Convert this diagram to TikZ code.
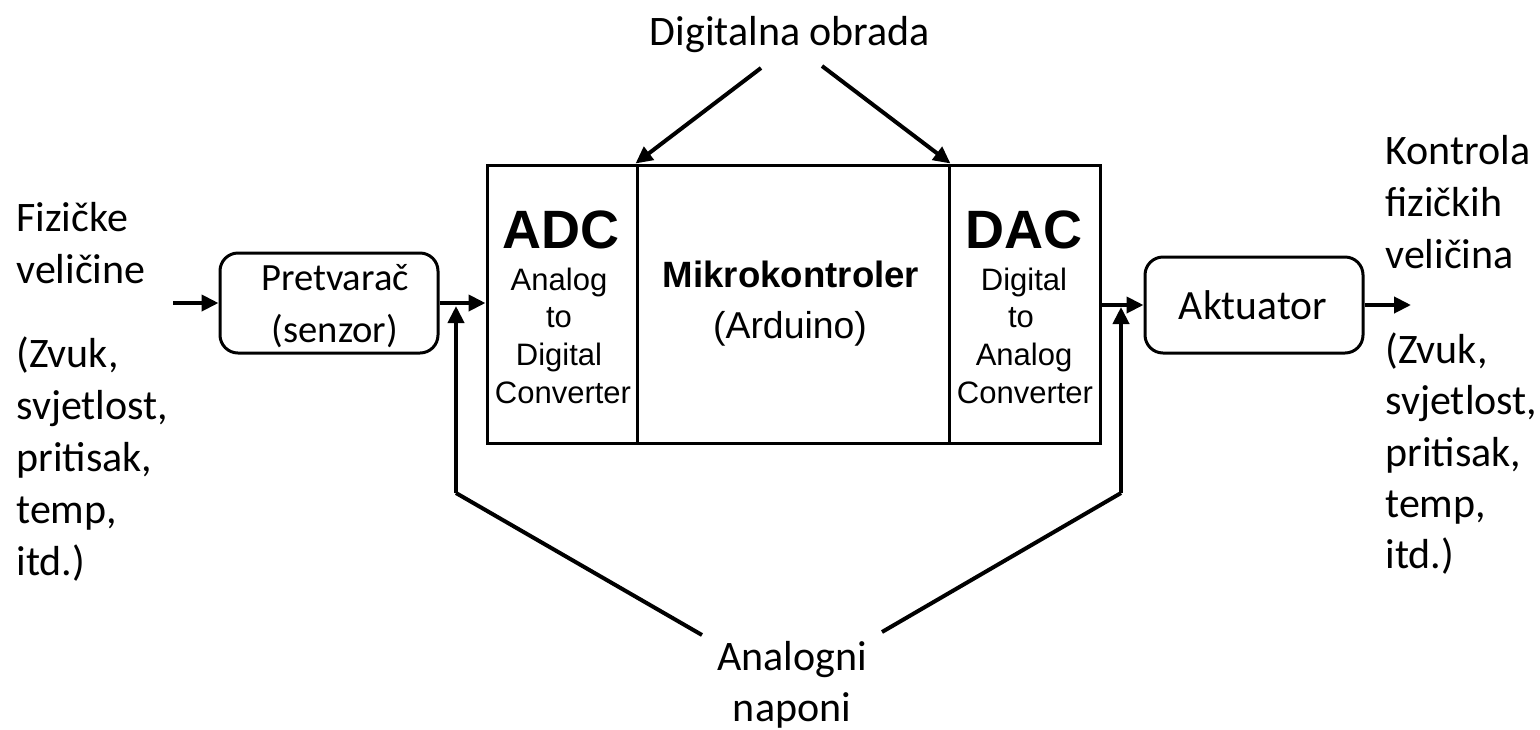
\documentclass[tikz,border=0pt]{standalone}
\usepackage{fontspec}
\setmainfont{Carlito}
\newfontfamily\arialf{Liberation Sans}
\usetikzlibrary{arrows.meta}
\tikzset{
  blk/.style={draw, line width=1.5pt, inner sep=0pt, minimum height=139pt},
  rbox/.style={draw, line width=1.5pt, rounded corners=9pt, inner sep=0pt},
  conn/.style={line width=2pt},
  arr/.style={line width=2pt, -{Triangle[length=8.5pt,width=8pt]}},
  txt/.style={inner sep=0pt, font=\fontsize{21pt}{25pt}\selectfont},
  ltxt/.style={txt, anchor=base west},
  ctxt/.style={txt, anchor=base},
  big/.style={inner sep=0pt, anchor=base, font=\arialf\bfseries\fontsize{27pt}{30pt}\selectfont},
  sub/.style={inner sep=0pt, anchor=base, font=\arialf\fontsize{15.5pt}{18pt}\selectfont}
}
\begin{document}
\begin{tikzpicture}[x=0.5pt,y=-0.5pt]
\useasboundingbox (0,0) rectangle (1540,729);

% main blocks
\node[blk, minimum width=75pt] (adc) at (562,304) {};
\node[blk, minimum width=156pt] (mk) at (793,304) {};
\node[blk, minimum width=75.5pt] (dac) at (1024.5,304) {};

% rounded boxes
\node[rbox, minimum width=109pt, minimum height=50pt] (pret) at (329,303) {};
\node[rbox, minimum width=109pt, minimum height=48pt] (akt) at (1254,305) {};

% texts inside boxes
\node[ctxt, font=\fontsize{19.3pt}{23pt}\selectfont] (pret1) at (335,290) {Pretvarač};
\node[ctxt, font=\fontsize{19.3pt}{23pt}\selectfont] (pret2) at (335,342) {(senzor)};
\node[ctxt, font=\fontsize{20.8pt}{24pt}\selectfont] (akt1) at (1253,319) {Aktuator};

\node[big] (adct) at (561,248) {ADC};
\node[sub] (adc1) at (559,290) {Analog};
\node[sub] (adc2) at (559,327) {to};
\node[sub] (adc3) at (559,365) {Digital};
\node[sub] (adc4) at (563,403) {Converter};

\node[big] (dact) at (1024,248) {DAC};
\node[sub] (dac1) at (1024,290) {Digital};
\node[sub] (dac2) at (1021,327) {to};
\node[sub] (dac3) at (1024,365) {Analog};
\node[sub] (dac4) at (1025,403) {Converter};

\node[inner sep=0pt, anchor=base, font=\arialf\bfseries\fontsize{18.3pt}{22pt}\selectfont] (mk1) at (791,287) {Mikrokontroler};
\node[inner sep=0pt, anchor=base, font=\arialf\fontsize{18.7pt}{22pt}\selectfont] (mk2) at (790,338) {(Arduino)};

% top label
\node[ctxt] (dig) at (790,45) {Digitalna obrada};
\coordinate (dl) at (761,68);
\coordinate (dr) at (822,66);
\draw[arr] (dl) -- (mk.north west);
\draw[arr] (dr) -- (mk.north east);

% bottom label
\node[ctxt] (an1) at (792,670) {Analogni};
\node[ctxt] (an2) at (792,721) {naponi};

% left texts
\node[ltxt] (l1) at (16,231) {Fizičke};
\node[ltxt] (l2) at (16,283) {veličine};
\node[ltxt] (l3) at (16,367) {(Zvuk,};
\node[ltxt] (l4) at (16,419) {svjetlost,};
\node[ltxt] (l5) at (16,471) {pritisak,};
\node[ltxt] (l6) at (16,523) {temp,};
\node[ltxt] (l7) at (16,575) {itd.)};

% right texts
\node[ltxt] (r1) at (1385,164) {Kontrola};
\node[ltxt] (r2) at (1385,216) {fizičkih};
\node[ltxt] (r3) at (1385,268) {veličina};
\node[ltxt] (r4) at (1385,363) {(Zvuk,};
\node[ltxt] (r5) at (1385,414) {svjetlost,};
\node[ltxt] (r6) at (1385,466) {pritisak,};
\node[ltxt] (r7) at (1385,517) {temp,};
\node[ltxt] (r8) at (1385,568) {itd.)};

% signal chain
\coordinate (in) at (173,303);
\coordinate (out) at (1411,305);
\draw[arr] (in) -- (pret.west);
\draw[arr] (pret.east) -- (pret.east -| adc.west);
\draw[arr] (akt.east) -- (out);
\draw[arr] (dac.east |- akt.west) -- (akt.west);

% analog voltage feeds
\coordinate (lt) at (456,306);
\coordinate (lc) at (456,493);
\coordinate (le) at (702,635);
\coordinate (rt) at (1121,307);
\coordinate (rc) at (1121,493);
\coordinate (re) at (882,632);
\draw[conn] (le) -- (lc);
\draw[arr] (lc) -- (lt);
\draw[conn] (re) -- (rc);
\draw[arr] (rc) -- (rt);
\end{tikzpicture}
\end{document}
